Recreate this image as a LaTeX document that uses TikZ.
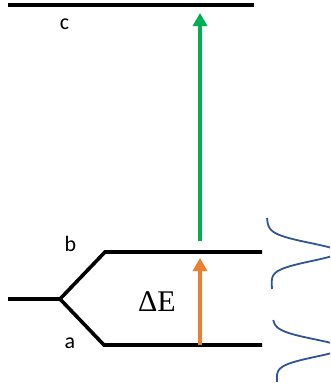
\documentclass[tikz,border=0pt]{standalone}
\usepackage{fontspec}
\setmainfont{Liberation Serif}
\newfontfamily\levelfont{Carlito}
\usetikzlibrary{arrows.meta}
\definecolor{transgreen}{RGB}{0,176,80}
\definecolor{transorange}{RGB}{237,125,49}
\definecolor{peakblue}{RGB}{47,85,151}

\begin{document}
\begin{tikzpicture}[x=1pt, y=-1pt, >={Triangle[width=14pt,length=13pt]},
    level/.style={line width=3.6pt},
    lvllabel/.style={font=\levelfont\fontsize{22}{22}\selectfont, inner sep=0pt},
    trans/.style={->, line width=4pt},
    peak/.style={peakblue, line width=1.8pt}]
    \useasboundingbox (0,0) rectangle (330,383);
    \clip (0,0) rectangle (330,383);

    % energy levels
    \coordinate (c-l) at (8,4.7);   \coordinate (c-r) at (254,4.7);
    \coordinate (b-l) at (105,252); \coordinate (b-r) at (262,252);
    \coordinate (a-l) at (104,345); \coordinate (a-r) at (262,345);
    \coordinate (split) at (60,299);
    \coordinate (stub) at (8,299);
    \draw[level] (c-l) -- (c-r);
    \draw[level, line join=miter] (b-r) -- (b-l) -- (split) -- (a-l) -- (a-r);
    \draw[level] (stub) -- (split);

    \node[lvllabel] (c-lbl) at (64.5,24.5) {c};
    \node[lvllabel] (b-lbl) at (70.5,244) {b};
    \node[lvllabel] (a-lbl) at (70,343) {a};

    % transitions
    \coordinate (a-mid) at (200,345);
    \coordinate (b-tip) at (200,258);
    \coordinate (b-mid) at (200,241);
    \coordinate (c-tip) at (200,13);
    \draw[trans, transorange] (a-mid) -- (b-tip);
    \draw[trans, transgreen] (b-mid) -- (c-tip);
    \node[font=\fontsize{30}{30}\selectfont, inner sep=0pt] (dE) at (157,302) {ΔE};

    % line profiles
    \draw[peak] plot[domain=218:289, samples=80, smooth]
        ({267+(\x-218)*5/71+69*exp(-((\x-252)^2)/160)}, \x);
    \draw[peak] plot[domain=320:382, samples=80, smooth]
        ({273+(\x-320)*4/62+67*exp(-((\x-348)^2)/150)}, \x);
\end{tikzpicture}
\end{document}
